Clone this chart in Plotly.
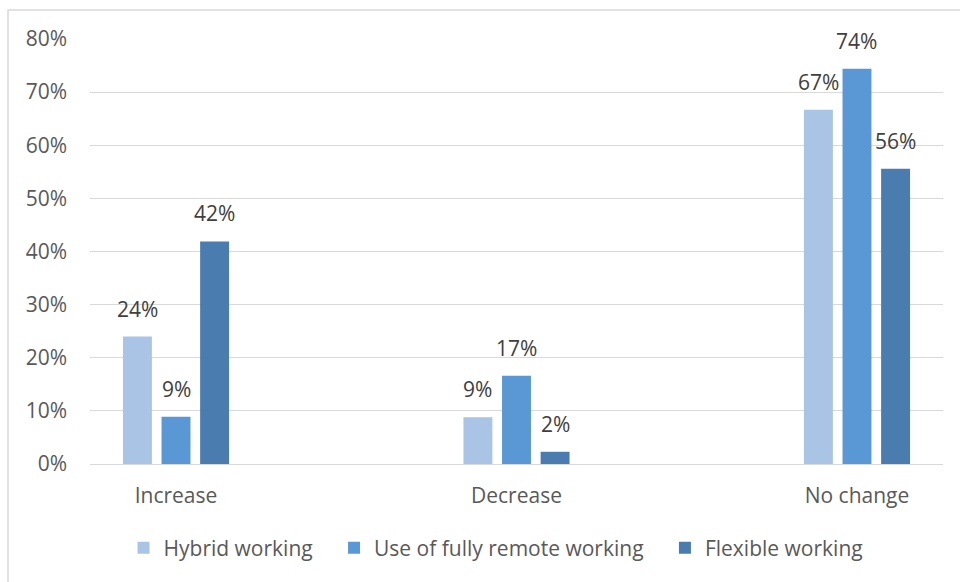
import plotly.graph_objects as go

categories = ["Increase", "Decrease", "No change"]
series_names = ["Hybrid working", "Use of fully remote working", "Flexible working"]
hybrid = [0.240, 0.088, 0.667]
remote = [0.089, 0.166, 0.744]
flexible = [0.419, 0.023, 0.556]
colors = ["#A9C4E5", "#5A98D5", "#4A7CB0"]
tick_vals = [0, 0.1, 0.2, 0.3, 0.4, 0.5, 0.6, 0.7, 0.8]
tick_text = ["0%", "10%", "20%", "30%", "40%", "50%", "60%", "70%", "80%"]

FONT = "Open Sans"
FS = 21
SLOT_PX = 38.6  # pixel distance between neighbouring bars in a group
PAD = "\u00a0\u00a0\u00a0"  # extra spacing after legend entries

fig = go.Figure()
all_series = [hybrid, remote, flexible]
for k, (name, vals, col) in enumerate(zip(series_names, all_series, colors)):
    fig.add_trace(go.Bar(
        x=categories, y=vals,
        name=name + (PAD if k < len(series_names) - 1 else ""),
        marker=dict(color=col, line=dict(width=0)),
        cliponaxis=False,
    ))

for i, vals in enumerate(all_series):
    for cat, v in zip(categories, vals):
        fig.add_annotation(
            x=cat, y=v, xref="x", yref="y",
            text=f"{round(v * 100):d}%",
            showarrow=False, xanchor="center", yanchor="bottom",
            xshift=(i - 1) * SLOT_PX, yshift=12,
            font=dict(family=FONT, size=FS, color="#404040"),
        )

fig.update_layout(
    width=960, height=582,
    margin=dict(l=90, r=17, t=39, b=118),
    paper_bgcolor="white", plot_bgcolor="white",
    barmode="group", bargap=0.66, bargroupgap=0.25,
    font=dict(family=FONT, size=FS, color="#595959"),
    xaxis=dict(
        type="category", range=[-0.2526, 2.2526],
        showgrid=False, showline=True, linecolor="#D9D9D9", linewidth=1,
        ticks="", ticklabelstandoff=13,
        tickfont=dict(family=FONT, size=FS, color="#595959"),
    ),
    yaxis=dict(
        range=[0, 0.8], tickvals=tick_vals, ticktext=tick_text,
        showgrid=True, gridcolor="#D9D9D9", gridwidth=1,
        zeroline=False, showline=False, ticks="",
        ticklabelstandoff=22,
        tickfont=dict(family=FONT, size=FS, color="#595959"),
    ),
    showlegend=True,
    legend=dict(
        orientation="h", x=0.476, xanchor="center", y=-0.198, yanchor="middle",
        font=dict(family=FONT, size=FS, color="#595959"),
        traceorder="normal",
    ),
)

fig.add_shape(
    type="rect", xref="paper", yref="paper",
    x0=-82/853, x1=1.1, y0=-0.4, y1=1 + 29/425,
    line=dict(color="#D9D9D9", width=1.5), fillcolor="rgba(0,0,0,0)", layer="below",
)

fig.write_html("out.html")
